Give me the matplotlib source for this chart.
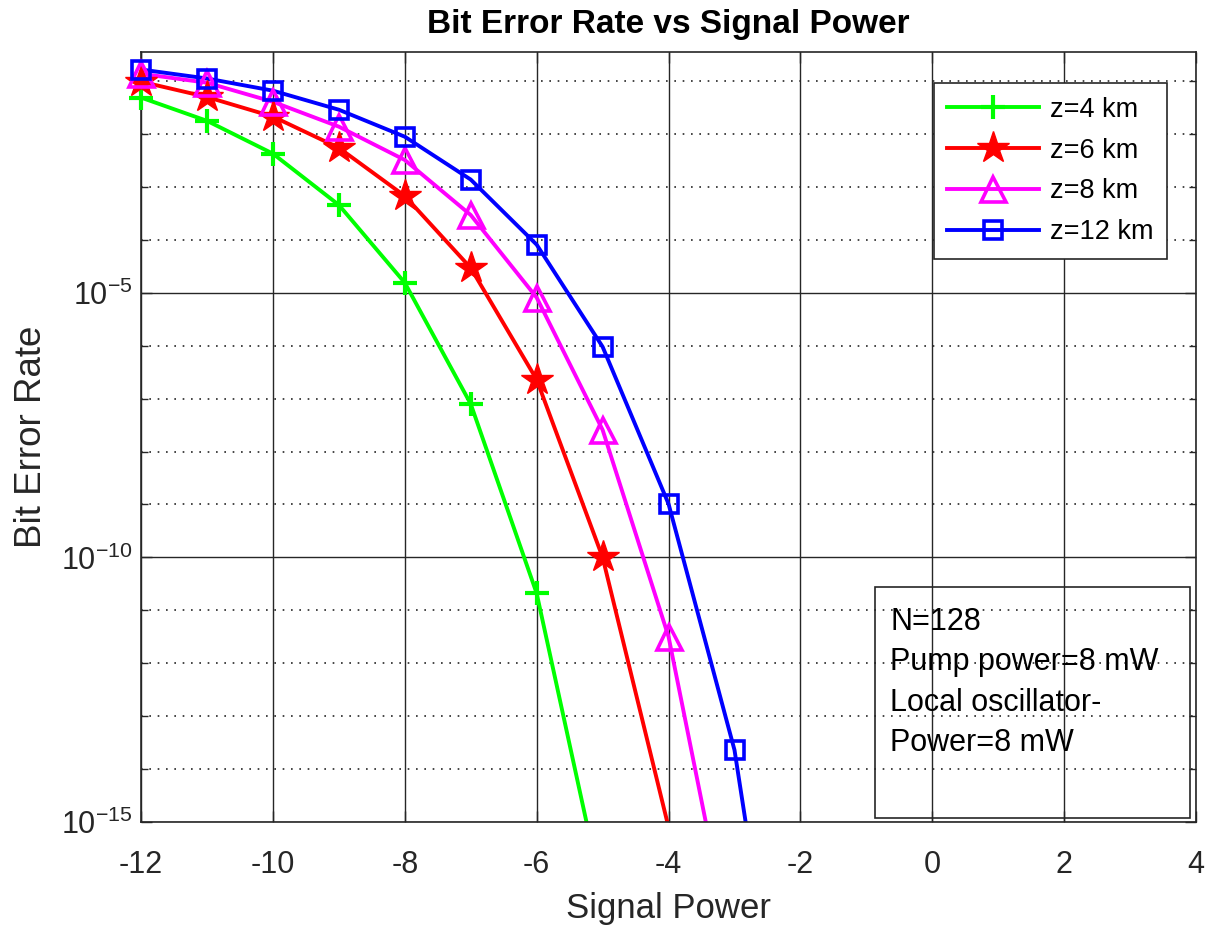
import numpy as np
import matplotlib.pyplot as plt
from matplotlib.patches import Rectangle

plt.rcParams['font.family'] = ['Liberation Sans', 'DejaVu Sans']
plt.rcParams['axes.unicode_minus'] = False
plt.rcParams['mathtext.fontset'] = 'custom'
plt.rcParams['mathtext.rm'] = 'Liberation Sans'
plt.rcParams['mathtext.it'] = 'Liberation Sans'

signal_power = [-12, -11, -10, -9, -8, -7, -6, -5, -4, -3, -2]

# log10(BER) for each fibre length
ber_z4 = [-1.31, -1.75, -2.37, -3.34, -4.81, -7.10, -10.68, -16.4]
ber_z6 = [-1.01, -1.30, -1.67, -2.26, -3.17, -4.53, -6.64, -10.0, -15.1]
ber_z8 = [-0.86, -1.03, -1.39, -1.86, -2.49, -3.53, -5.09, -7.59, -11.50, -17.7]
ber_z12 = [-0.78, -0.95, -1.18, -1.54, -2.05, -2.86, -4.09, -6.02, -8.99, -13.64, -21.7]

labels = ['z=4 km', 'z=6 km', 'z=8 km', 'z=12 km']
info_lines = ['N=128', 'Pump power=8 mW', 'Local oscillator-', 'Power=8 mW']

fig = plt.figure(figsize=(12.19, 9.26), dpi=100)
ax = fig.add_axes([0.1157, 0.1123, 0.8655, 0.8315])

ylo, yhi = 1e-15, 10 ** -0.45
series = [ber_z4, ber_z6, ber_z8, ber_z12]
colors = ['#00ff00', '#ff0000', '#ff00ff', '#0000ff']
markers = ['+', '*', '^', 's']
msizes = [17, 24, 18, 13]
mews = [3.0, 1.0, 2.6, 2.6]
handles = []
for vals, c, m, ms, mw in zip(series, colors, markers, msizes, mews):
    x = np.array(signal_power[:len(vals)])
    y = 10.0 ** np.array(vals)
    fc = 'none' if m in ('^', 's') else c
    # line is clipped to the axes, markers on visible points are not
    ax.semilogy(x, y, color=c, lw=2.8)
    keep = y >= ylo * 0.999
    ax.plot(x[keep], y[keep], ls='none', marker=m, markersize=ms, mfc=fc,
            mec=c, mew=mw, clip_on=False, zorder=3)
    handles.append(plt.Line2D([], [], color=c, lw=2.8, marker=m, markersize=ms,
                              mfc=fc, mec=c, mew=mw))

ax.set_xlim(-12, 4)
ax.set_ylim(ylo, yhi)
ax.set_xticks(np.arange(-12, 5, 2))
ax.set_yticks([1e-15, 1e-10, 1e-5])
ax.set_yticklabels([r'$10^{-15}$', r'$10^{-10}$', r'$10^{-5}$'])
ax.set_yticks([10.0 ** k for k in range(-15, 0)], minor=True)
ax.yaxis.set_minor_formatter(plt.NullFormatter())

ax.grid(True, which='major', color='#262626', lw=1.0, ls='-')
ax.grid(True, which='minor', axis='y', color='#262626', lw=1.2, ls=(0, (1, 4)))
ax.tick_params(which='both', direction='in', top=True, right=True,
               colors='#262626', labelsize=22, length=8, width=1)
ax.tick_params(axis='x', pad=20)
ax.tick_params(axis='y', pad=6)
ax.tick_params(which='minor', length=5)
for s in ax.spines.values():
    s.set_color('#262626')
    s.set_linewidth(1.2)

ax.set_xlabel('Signal Power', fontsize=25, color='#262626', labelpad=9)
ax.set_ylabel('Bit Error Rate', fontsize=26.5, color='#262626', labelpad=9)
ax.set_title('Bit Error Rate vs Signal Power', fontsize=24, fontweight='bold', pad=14)

leg = ax.legend(handles, labels, loc='upper right', bbox_to_anchor=(0.9725, 0.9597),
                borderaxespad=0, fontsize=19.5, fancybox=False, framealpha=1,
                edgecolor='#262626', handlelength=3.4, borderpad=0.5,
                labelspacing=0.55, handletextpad=0.4)
leg.get_frame().set_linewidth(1.2)

ax.add_patch(Rectangle((0.696, 0.005), 0.298, 0.30, transform=ax.transAxes,
                       fill=False, edgecolor='#262626', lw=1.2, zorder=5))
for i, line in enumerate(info_lines):
    ax.text(0.710, 0.2597 - i * 0.0525, line, transform=ax.transAxes,
            fontsize=22, va='center', ha='left', zorder=6)

fig.savefig('out.png', dpi=100)
